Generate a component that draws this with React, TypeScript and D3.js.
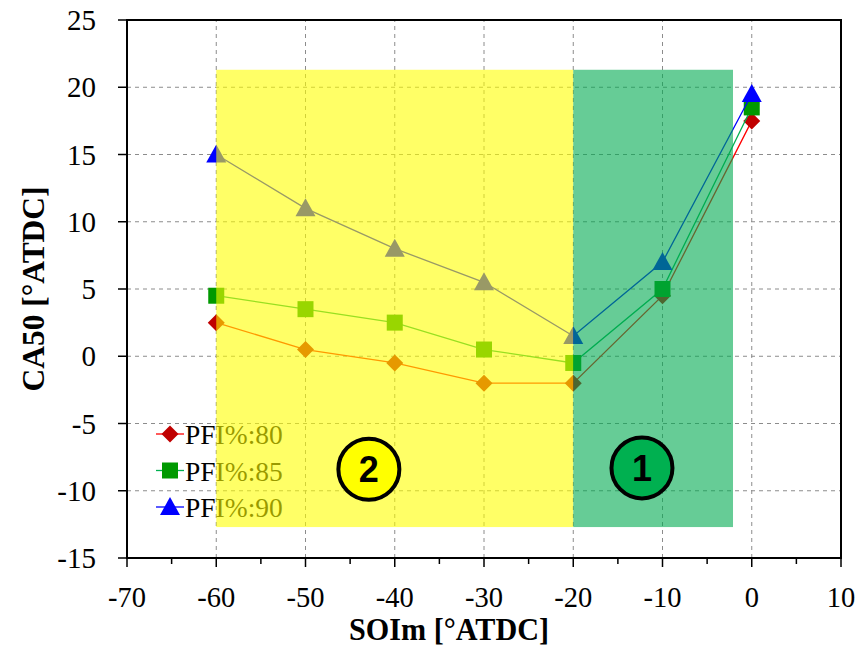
import React from "react";
import * as d3 from "d3";

// SOIm values (°ATDC)
const soi = [-60, -50, -40, -30, -20, -10, 0];
// CA50 per PFI share
const pfi80 = [2.5, 0.5, -0.5, -2, -2, 4.5, 17.5];
const pfi85 = [4.5, 3.5, 2.5, 0.5, -0.5, 5, 18.5];
const pfi90 = [15, 11, 8, 5.5, 1.5, 7, 19.5];

const xTicks = [-70, -60, -50, -40, -30, -20, -10, 0, 10];
const yTicks = [-15, -10, -5, 0, 5, 10, 15, 20, 25];

const series = [
  { name: "PFI%:80", values: pfi80, line: "#ff0000", fill: "#c00000", shape: "diamond" },
  { name: "PFI%:85", values: pfi85, line: "#00b050", fill: "#009900", shape: "square" },
  { name: "PFI%:90", values: pfi90, line: "#0000ff", fill: "#0000ff", shape: "triangle" },
];

// shaded regions (x0, x1, y0, y1 in data units)
const zones = [
  { x0: -60, x1: -20, y0: -12.7, y1: 21.3, color: "#ffff00", label: "2", lx: -42.9, ly: -8.4, circle: "#ffff00" },
  { x0: -20, x1: -2.1, y0: -12.7, y1: 21.3, color: "#00aa50", label: "1", lx: -12.3, ly: -8.3, circle: "#00b050" },
];

const W = 857, H = 647;
const margin = { left: 127, right: 16, top: 20, bottom: 89 };

function Marker({ shape, x, y, fill }: any) {
  if (shape === "diamond") {
    const r = 8.5;
    return <path d={`M${x},${y - r}L${x + r},${y}L${x},${y + r}L${x - r},${y}Z`} fill={fill} />;
  }
  if (shape === "square") {
    return <rect x={x - 8} y={y - 8} width={16} height={16} fill={fill} />;
  }
  return <path d={`M${x},${y - 10}L${x + 10},${y + 8}L${x - 10},${y + 8}Z`} fill={fill} />;
}

export default function App() {
  const x = d3.scaleLinear().domain([-70, 10]).range([margin.left, W - margin.right]);
  const y = d3.scaleLinear().domain([-15, 25]).range([H - margin.bottom, margin.top]);
  const line = d3.line<number>().x((_, i) => x(soi[i])).y((d) => y(d));
  const serif = { fontFamily: "Liberation Serif" };
  const x0 = x(-70), x1 = x(10), y0 = y(-15), y1 = y(25);

  return (
    <svg width={W} height={H} style={{ position: "absolute", left: 0, top: 0, background: "#fff" }}>
      {/* grid */}
      {xTicks.slice(1, -1).map((t) => (
        <line key={"gx" + t} x1={x(t)} x2={x(t)} y1={y0} y2={y1} stroke="#8c8c8c" strokeDasharray="4,4" strokeWidth={1} />
      ))}
      {yTicks.slice(1, -1).map((t) => (
        <line key={"gy" + t} x1={x0} x2={x1} y1={y(t)} y2={y(t)} stroke="#8c8c8c" strokeDasharray="4,4" strokeWidth={1} />
      ))}

      {/* series */}
      {series.map((s) => (
        <g key={s.name}>
          <path d={line(s.values) || ""} fill="none" stroke={s.line} strokeWidth={1.3} />
          {s.values.map((v, i) => (
            <Marker key={i} shape={s.shape} x={x(soi[i])} y={y(v)} fill={s.fill} />
          ))}
        </g>
      ))}

      {/* legend */}
      {series.map((s, i) => {
        const ly = 434 + i * 36.5;
        return (
          <g key={"lg" + s.name}>
            <line x1={156} x2={184} y1={ly} y2={ly} stroke={s.line} strokeWidth={1.3} />
            <Marker shape={s.shape} x={170} y={ly} fill={s.fill} />
            <text x={185} y={ly + 10} style={serif} fontSize={27.5} fill="#000">{s.name}</text>
          </g>
        );
      })}

      {/* shaded zones */}
      {zones.map((z) => (
        <rect key={"z" + z.label} x={x(z.x0)} y={y(z.y1)} width={x(z.x1) - x(z.x0)} height={y(z.y0) - y(z.y1)}
          fill={z.color} fillOpacity={0.6} />
      ))}
      {zones.map((z) => (
        <g key={"c" + z.label}>
          <circle cx={x(z.lx)} cy={y(z.ly)} r={30.5} fill={z.circle} stroke="#000" strokeWidth={4} />
          <text x={x(z.lx)} y={y(z.ly) + 13} textAnchor="middle" style={{ fontFamily: "Liberation Sans Narrow, Liberation Sans" }}
            fontWeight="bold" fontSize={36} fill="#000">{z.label}</text>
        </g>
      ))}

      {/* frame */}
      <rect x={x0} y={y1} width={x1 - x0} height={y0 - y1} fill="none" stroke="#000" strokeWidth={2} />

      {/* x axis ticks */}
      {d3.range(-70, 11, 5).map((t) => (
        <line key={"xt" + t} x1={x(t)} x2={x(t)} y1={y0} y2={y0 + (t % 10 === 0 ? 9 : 6)} stroke="#000" strokeWidth={1.5} />
      ))}
      {xTicks.map((t) => (
        <text key={"xl" + t} x={x(t)} y={y0 + 49} textAnchor="middle" style={serif} fontSize={28.5} fill="#000">{t}</text>
      ))}
      {/* y axis ticks */}
      {yTicks.map((t) => (
        <line key={"yt" + t} x1={x0 - 9} x2={x0} y1={y(t)} y2={y(t)} stroke="#000" strokeWidth={1.5} />
      ))}
      {yTicks.map((t) => (
        <text key={"yl" + t} x={x0 - 31} y={y(t) + 10} textAnchor="end" style={serif} fontSize={29} fill="#000">{t}</text>
      ))}

      {/* axis titles */}
      <text x={449} y={640} textAnchor="middle" style={serif} fontWeight="bold" fontSize={31}
        fill="#000" textLength={200} lengthAdjust="spacingAndGlyphs">SOIm [°ATDC]</text>
      <text transform={`translate(44,${(y0 + y1) / 2}) rotate(-90)`} textAnchor="middle" style={serif}
        fontWeight="bold" fontSize={31} fill="#000" textLength={205} lengthAdjust="spacingAndGlyphs">CA50 [°ATDC]</text>
    </svg>
  );
}
